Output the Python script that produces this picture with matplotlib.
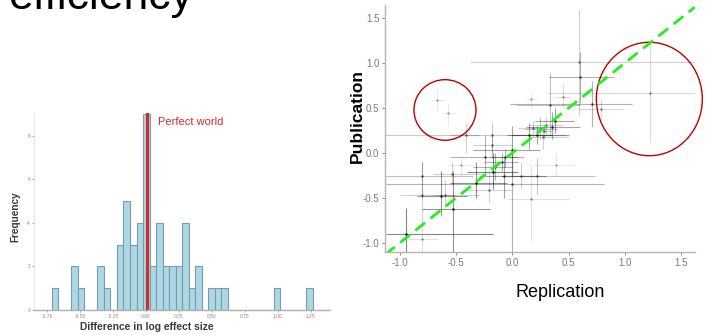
import matplotlib
matplotlib.use("Agg")
import matplotlib.pyplot as plt
from matplotlib.patches import Ellipse
import numpy as np

plt.rcParams['font.family'] = ['Liberation Sans', 'DejaVu Sans']
plt.rcParams['axes.unicode_minus'] = False

# ---- histogram data (difference in log effect size) ----
bin_start = -0.717
bin_width = 0.0496
counts = [1, 0, 0, 2, 1, 0, 0, 2, 1, 0,
          3, 5, 3, 4, 9, 2, 4, 2, 2, 2,
          4, 1, 2, 0, 1, 1, 1, 0, 0, 0,
          0, 0, 0, 0, 1, 0, 0, 0, 0, 1]
hist_ticks = [-0.75, -0.50, -0.25, 0.00, 0.25, 0.50, 0.75, 1.00, 1.25]
freq_ticks = [0, 2, 4, 6, 8]
perfect_x = 0.005

# ---- replication vs publication data ----
rep_x = [0.59, 0.60, 1.22, 0.705, 0.79, 0.45, 0.335, 0.38, 0.35, 0.245,
         0.18, 0.217, 0.15, 0.17, 0.275, 0.0, -0.18, -0.18, -0.24, -0.41,
         -0.67, -0.57, -0.94, -0.80, -0.80, -0.80, -0.63, -0.60, -0.53, -0.54,
         -0.32, -0.21, -0.17, -0.15, -0.094, -0.065, -0.07, 0.0, 0.08, 0.22,
         0.17, 0.39, -0.46, 0.28, 0.30]
pub_y = [1.01, 0.84, 0.67, 0.545, 0.49, 0.62, 0.53, 0.36, 0.29, 0.27,
         0.28, 0.20, 0.20, 0.60, 0.18, 0.03, 0.20, 0.09, -0.04, 0.20,
         0.59, 0.44, -0.90, -0.95, -0.47, -0.26, -0.48, -0.47, -0.62, -0.23,
         -0.33, -0.41, -0.21, -0.15, -0.10, -0.04, -0.25, -0.34, -0.26, -0.25,
         -0.51, -0.13, -0.13, 0.24, 0.31]
rep_lo = [-0.38, 0.33, 0.32, -0.02, 0.58, 0.36, 0.03, 0.20, 0.12, 0.10,
          0.05, 0.0, -0.05, 0.12, 0.15, -0.35, -1.13, -0.35, -0.55, -0.55,
          -0.72, -0.62, -1.12, -0.93, -1.0, -1.13, -0.85, -0.70, -0.80, -0.70,
          -0.55, -0.40, -0.40, -0.35, -0.25, -0.20, -0.30, -1.12, -0.05, -0.10,
          -0.04, 0.18, -0.55, 0.20, 0.15]
rep_hi = [1.9, 0.90, 1.9, 1.06, 0.99, 0.52, 0.60, 0.55, 0.60, 0.40,
          0.30, 0.50, 0.35, 0.22, 0.50, 0.25, 0.48, 0.0, 0.05, -0.30,
          -0.60, -0.50, -0.17, -0.67, -0.30, -0.35, -0.40, -0.50, -0.20, -0.25,
          -0.05, 0.0, 0.05, 0.0, 0.05, 0.10, 0.30, 0.81, 0.20, 0.73,
          0.50, 0.55, -0.35, 0.35, 0.45]
pub_lo = [0.42, 0.55, 0.12, 0.29, 0.37, 0.50, 0.20, 0.22, 0.15, 0.15,
          0.18, 0.10, 0.05, 0.50, 0.05, -0.25, 0.0, -0.05, -0.25, 0.0,
          0.48, 0.30, -1.2, -1.2, -0.80, -0.50, -0.70, -0.60, -1.2, -0.35,
          -0.50, -0.55, -0.40, -0.30, -0.20, -0.15, -0.50, -1.2, -0.40, -0.45,
          -0.97, -0.25, -0.25, 0.15, 0.20]
pub_hi = [1.59, 1.12, 1.23, 0.80, 0.60, 0.78, 0.89, 0.50, 0.45, 0.40,
          0.35, 0.30, 0.33, 0.68, 0.30, 0.30, 0.33, 0.20, 0.20, 0.33,
          0.70, 0.56, -0.61, -0.80, -0.10, -0.10, -0.20, -0.30, -0.20, -0.10,
          -0.10, -0.20, 0.0, 0.0, 0.0, 0.05, -0.05, 0.05, -0.10, -0.05,
          -0.13, 0.0, -0.05, 0.30, 0.40]
weight = [0.3, 0.5, 0.25, 0.5, 0.25, 0.2, 0.4, 0.6, 0.6, 0.4,
          0.3, 0.6, 0.6, 0.15, 0.3, 0.6, 0.35, 0.3, 0.5, 0.3,
          0.15, 0.15, 0.8, 0.2, 0.3, 0.4, 0.7, 0.3, 0.7, 0.3,
          0.7, 0.3, 0.8, 0.5, 0.5, 0.5, 0.6, 0.5, 0.3, 0.4,
          0.2, 0.15, 0.15, 0.3, 0.3]

fig = plt.figure(figsize=(7.08, 3.35), dpi=100)
W, H = 708, 335

# slide title, cut off at the top
fig.text(8 / W, 1 - 9.5 / H, "efficiency", fontsize=32, va="baseline",
         ha="left", color="black")

# ---------------- histogram ----------------
ax1 = fig.add_axes([34.3 / W, 1 - 310 / H, (330 - 34.3) / W, (310 - 113.3) / H])
edges = bin_start + bin_width * np.arange(len(counts))
ax1.bar(edges, counts, width=bin_width, align="edge", color="#acd8e5",
        edgecolor="#7e9aa6", linewidth=0.8)
ax1.axvline(perfect_x, color="#c8302c", linewidth=2.3)
ax1.set_xlim(-0.849, 1.398)
ax1.set_ylim(0, 9.02)
ax1.set_xticks(hist_ticks)
ax1.set_xticklabels([f"{t:.2f}" for t in hist_ticks])
ax1.set_yticks(freq_ticks)
ax1.tick_params(labelsize=3.5, colors="#888888", length=1.5, width=0.5, pad=1.5)
for s in ["top", "right"]:
    ax1.spines[s].set_visible(False)
ax1.spines["bottom"].set_color("#b0b0b0")
ax1.spines["left"].set_color("#e4e4e4")
ax1.spines["bottom"].set_linewidth(1.0)
ax1.spines["left"].set_linewidth(0.6)
ax1.text(0.09, 8.6, "Perfect world", color="#cc2b2b", fontsize=8, va="center")
fig.text(15 / W, 1 - 216.7 / H, "Frequency", rotation=90, fontsize=7.2,
         fontweight="bold", color="#3a3a3a", ha="center", va="center")
fig.text(146.7 / W, 1 - 326.7 / H, "Difference in log effect size", fontsize=7.4,
         fontweight="bold", color="#3a3a3a", ha="center", va="center")

# ---------------- replication vs publication ----------------
ax2 = fig.add_axes([385 / W, 1 - 252.3 / H, (695 - 385) / W, (252.3 - 5) / H])
for i in range(len(rep_x)):
    a = weight[i]
    ax2.plot([rep_lo[i], rep_hi[i]], [pub_y[i], pub_y[i]], color="black",
             alpha=a * 0.6, linewidth=0.8, solid_capstyle="butt")
    ax2.plot([rep_x[i], rep_x[i]], [pub_lo[i], pub_hi[i]], color="black",
             alpha=a * 0.6, linewidth=0.8, solid_capstyle="butt")
    ax2.plot(rep_x[i], pub_y[i], "o", color="black", alpha=min(1, a + 0.15),
             markersize=1.8, markeredgewidth=0)
ax2.set_xlim(-1.1306, 1.6225)
ax2.set_ylim(-1.103, 1.644)
diag = np.array([-1.1306, 1.62])
ax2.plot(diag, diag, color="#22ee22", linewidth=2.0, dashes=(4.5, 2.5))
ax2.add_patch(Ellipse((-0.598, 0.478), 0.551, 0.673, fill=False,
                      edgecolor="#c00000", linewidth=1.0, clip_on=False))
ax2.add_patch(Ellipse((1.217, 0.60), 0.941, 1.26, fill=False,
                      edgecolor="#c00000", linewidth=1.0, clip_on=False))
ax2.set_xticks([-1.0, -0.5, 0.0, 0.5, 1.0, 1.5])
ax2.set_yticks([-1.0, -0.5, 0.0, 0.5, 1.0, 1.5])
ax2.tick_params(labelsize=7, colors="#7a7a7a", length=2, width=0.6, pad=2)
for s in ["top", "right"]:
    ax2.spines[s].set_visible(False)
for s in ["left", "bottom"]:
    ax2.spines[s].set_color("#b5b5b5")
    ax2.spines[s].set_linewidth(1.0)
fig.text(357 / W, 1 - 116 / H, "Publication", rotation=90, fontsize=12.5,
         fontweight="bold", color="black", ha="center", va="center")
fig.text(559.7 / W, 1 - 292.3 / H, "Replication", fontsize=13,
         color="black", ha="center", va="center")

fig.savefig("out.png", dpi=100)
